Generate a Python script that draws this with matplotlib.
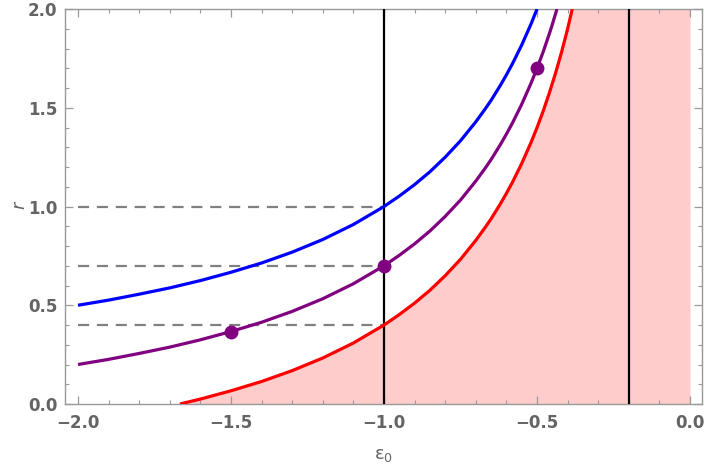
import matplotlib
matplotlib.use("Agg")
import matplotlib.pyplot as plt
from matplotlib.ticker import MultipleLocator

plt.rcParams['mathtext.default'] = 'regular'

# Blue curve
blue_x = [-2.0, -1.9, -1.8, -1.7, -1.6, -1.5, -1.4, -1.3, -1.2, -1.1, -1.0,
          -0.95, -0.9, -0.85, -0.8, -0.75, -0.7, -0.67, -0.65, -0.62, -0.6,
          -0.58, -0.55, -0.52, -0.5]
blue_r = [0.5, 0.526, 0.556, 0.588, 0.625, 0.667, 0.714, 0.769, 0.833, 0.909, 1.0,
          1.053, 1.111, 1.176, 1.25, 1.333, 1.429, 1.493, 1.538, 1.613, 1.667,
          1.724, 1.818, 1.923, 2.0]

# Purple curve
purple_x = [-2.0, -1.9, -1.8, -1.7, -1.6, -1.5, -1.4, -1.3, -1.2, -1.1, -1.0,
            -0.95, -0.9, -0.85, -0.8, -0.75, -0.7, -0.67, -0.65, -0.62, -0.6,
            -0.58, -0.55, -0.52, -0.5, -0.48, -0.46, -0.45, -0.435]
purple_r = [0.2, 0.226, 0.256, 0.288, 0.325, 0.367, 0.414, 0.469, 0.533, 0.609, 0.7,
            0.753, 0.811, 0.876, 0.95, 1.033, 1.129, 1.193, 1.238, 1.313, 1.367,
            1.424, 1.518, 1.623, 1.7, 1.783, 1.874, 1.922, 2.0]

# Red curve (boundary of shaded region)
red_x = [-1.667, -1.6, -1.5, -1.4, -1.3, -1.2, -1.1, -1.0, -0.95, -0.9, -0.85,
         -0.8, -0.75, -0.7, -0.67, -0.65, -0.62, -0.6, -0.58, -0.55, -0.52,
         -0.5, -0.48, -0.46, -0.44, -0.42, -0.4, -0.385]
red_r = [0.0, 0.025, 0.067, 0.114, 0.169, 0.233, 0.309, 0.4, 0.453, 0.511, 0.576,
         0.65, 0.733, 0.829, 0.893, 0.938, 1.013, 1.067, 1.124, 1.218, 1.323,
         1.4, 1.483, 1.574, 1.673, 1.781, 1.9, 2.0]

# Highlighted points
pts_x = [-1.5, -1.0, -0.5]
pts_r = [0.367, 0.7, 1.7]

# Dashed reference levels
dash_levels = [1.0, 0.7, 0.4]
dash_x0, dash_x1 = -2.0, -1.0

# Vertical lines
vlines_x = [-1.0, -0.2]

fig = plt.figure(figsize=(7.04, 4.70), dpi=100)
ax = fig.add_axes([65/704, 1-404/470, (702-65)/704, (404-9)/470])

ax.fill_betweenx(red_r, red_x, 0, color='#FFCCCC', lw=0, zorder=1)

for lvl in dash_levels:
    ax.plot([dash_x0, dash_x1], [lvl, lvl], color='#808080', lw=1.6,
            dashes=(5, 3.5), zorder=2)

for vx in vlines_x:
    ax.axvline(vx, color='black', lw=1.6, zorder=3)

ax.plot(blue_x, blue_r, color='#0000FF', lw=2.3, zorder=4, solid_capstyle='butt')
ax.plot(purple_x, purple_r, color='#800080', lw=2.3, zorder=4, solid_capstyle='butt')
ax.plot(red_x, red_r, color='#FF0000', lw=2.3, zorder=4, solid_capstyle='butt')
ax.plot(pts_x, pts_r, 'o', color='#800080', ms=10, mec='none', zorder=5)

ax.set_xlim(-2.0425, 0.039)
ax.set_ylim(0, 2)

ax.xaxis.set_major_locator(MultipleLocator(0.5))
ax.xaxis.set_minor_locator(MultipleLocator(0.1))
ax.yaxis.set_major_locator(MultipleLocator(0.5))
ax.yaxis.set_minor_locator(MultipleLocator(0.1))
ax.xaxis.set_major_formatter(plt.FuncFormatter(lambda v, p: f"{v:.1f}".replace('-', '\u2212')))
ax.yaxis.set_major_formatter(plt.FuncFormatter(lambda v, p: f"{v:.1f}"))

ax.tick_params(which='both', direction='in', top=True, right=True, color='#999999')
ax.tick_params(which='major', length=5.5, width=0.9, labelsize=12, labelcolor='#646464')
ax.tick_params(axis='x', which='major', pad=7.5)
ax.tick_params(axis='y', which='major', pad=5.5)
ax.tick_params(which='minor', length=3, width=0.8)
for lbl in ax.get_xticklabels() + ax.get_yticklabels():
    lbl.set_fontweight('bold')
for s in ax.spines.values():
    s.set_color('#999999')
    s.set_linewidth(1.0)

ax.set_xlabel(r'$\varepsilon_0$', fontsize=13, color='#646464')
ax.set_ylabel('r', fontsize=13, color='#646464', fontstyle='italic')
ax.xaxis.set_label_coords((384-65)/637, (404-446)/395)
ax.yaxis.set_label_coords((28-65)/637, (404-205)/395)

fig.savefig('out.png', dpi=100)
